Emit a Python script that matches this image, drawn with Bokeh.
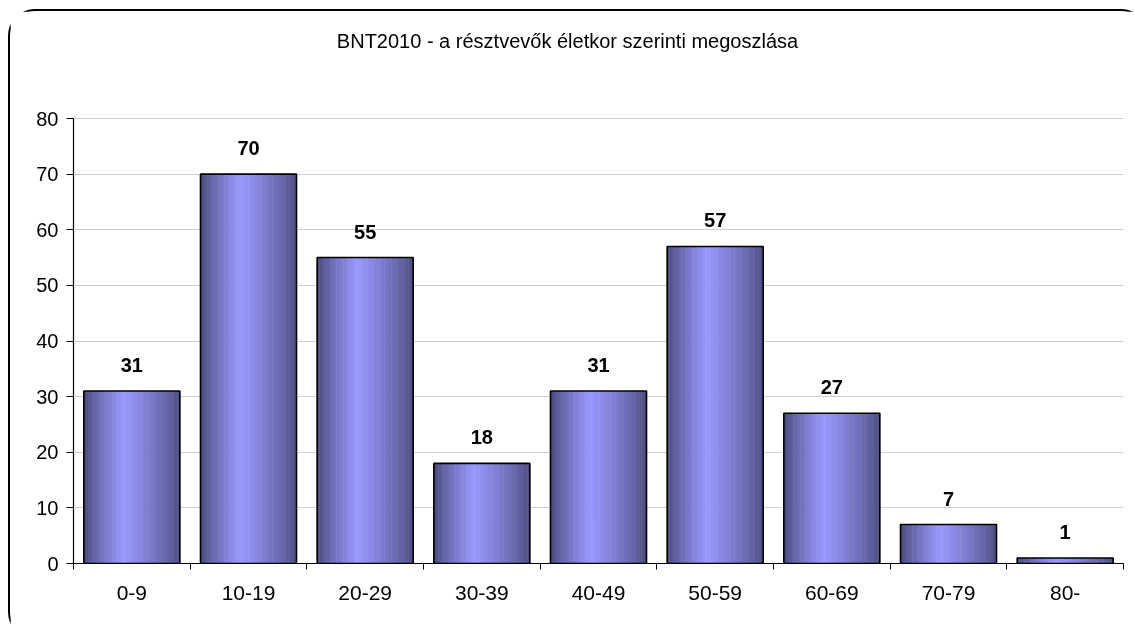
from bokeh.plotting import figure
from bokeh.models import ColumnDataSource, Range1d, FixedTicker, Label
from bokeh.transform import dodge
from bokeh.core.properties import value
from bokeh.embed import file_html
from bokeh.resources import INLINE

# ---- data ----
categories = ["0-9", "10-19", "20-29", "30-39", "40-49", "50-59", "60-69", "70-79", "80-"]
counts = [31, 70, 55, 18, 31, 57, 27, 7, 1]
y_ticks = [0, 10, 20, 30, 40, 50, 60, 70, 80]
title_text = "BNT2010 - a résztvevők életkor szerinti megoszlása"

FONT = "Liberation Sans"
centers = [i + 0.5 for i in range(len(categories))]
src = ColumnDataSource(dict(x=centers, top=counts, label=[str(c) for c in counts]))

# frame spans up to the top of the canvas; axis is bounded to 0..80 so the
# title can sit inside the (unclipped) frame area above the plot
Y_MAX = 80
PX_PER_UNIT = 445 / Y_MAX
TOP_PAD = 107 / PX_PER_UNIT

p = figure(width=1140, height=630, output_backend="svg", toolbar_location=None,
           x_range=Range1d(0, len(categories)), y_range=Range1d(0, Y_MAX + TOP_PAD),
           min_border_left=63, min_border_right=27, min_border_top=0, min_border_bottom=78)
p.outline_line_color = None
p.background_fill_color = "white"
p.border_fill_color = "white"
p.styles = {"position": "fixed", "left": "8px", "top": "9px",
            "border": "2px solid #000", "border-radius": "27px"}

# gradient bars built from slices
dark_l = (70, 70, 118)
dark_r = (76, 76, 126)
light = (153, 153, 255)
peak = 0.42
N = 40
W = 0.823

def col(t):
    if t <= peak:
        f = t / peak
        a, b = dark_l, light
    else:
        f = 1 - (t - peak) / (1 - peak)
        a, b = dark_r, light
    f = f ** 0.8
    c = [round(a[k] + (b[k] - a[k]) * f) for k in range(3)]
    return "#%02x%02x%02x" % tuple(c)

sw = W / N
for j in range(N):
    t = (j + 0.5) / N
    off = -W / 2 + (j + 0.5) * sw
    p.vbar(x=dodge("x", off), top="top", bottom=0, width=sw * 1.2, source=src,
           fill_color=col(t), line_color=None)

p.vbar(x="x", top="top", bottom=0, width=W, source=src, fill_color=None,
       line_color="black", line_width=1.6)

p.text(x="x", y="top", text="label", source=src, text_align="center", text_baseline="middle",
       y_offset=-26, text_font=value(FONT), text_font_style="bold", text_font_size="20px",
       text_color="black")

# title
p.add_layout(Label(x=494, y=523, x_units="screen", y_units="screen", text=title_text,
                   text_align="center", text_baseline="middle", text_font=FONT,
                   text_font_size="20px", text_color="black"))

# axes
p.xgrid.visible = False
p.ygrid.ticker = FixedTicker(ticks=y_ticks)
p.ygrid.grid_line_color = "#d0d0d0"
p.ygrid.grid_line_width = 1.2

xa = p.xaxis[0]
xa.ticker = FixedTicker(ticks=centers, minor_ticks=list(range(len(categories) + 1)))
xa.major_label_overrides = {c: lab for c, lab in zip(centers, categories)}
xa.major_tick_out = 0
xa.major_tick_in = 0
xa.minor_tick_out = 6
xa.minor_tick_in = 0
xa.minor_tick_line_color = "black"
xa.axis_line_color = "black"
xa.axis_line_width = 1.2
xa.major_label_standoff = 16
xa.major_label_text_font = FONT
xa.major_label_text_font_size = "21px"
xa.major_label_text_color = "black"

ya = p.yaxis[0]
ya.bounds = (0, Y_MAX)
ya.ticker = FixedTicker(ticks=y_ticks)
ya.minor_tick_line_color = None
ya.major_tick_out = 7
ya.major_tick_in = 0
ya.major_tick_line_color = "black"
ya.axis_line_color = "black"
ya.axis_line_width = 1.2
ya.major_label_standoff = 8
ya.major_label_text_font = FONT
ya.major_label_text_font_size = "20px"
ya.major_label_text_color = "black"

open("out.html", "w").write(file_html(p, INLINE))
